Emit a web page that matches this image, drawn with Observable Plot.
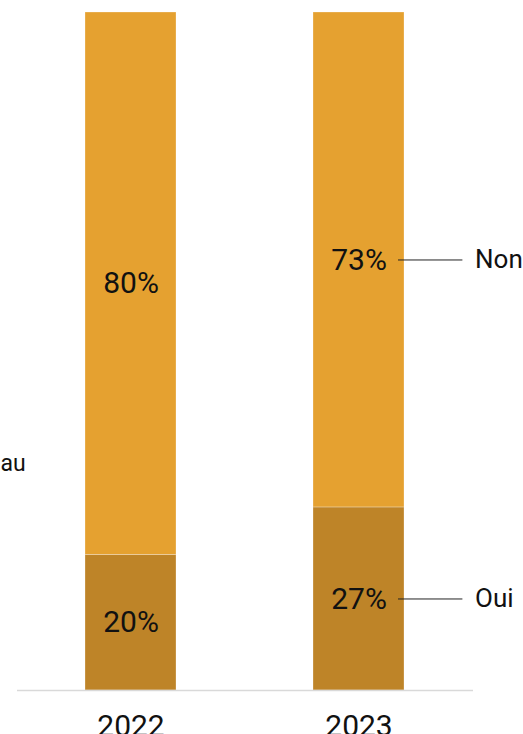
<!DOCTYPE html>
<html>
<head>
<meta charset="utf-8">
<script src="https://cdn.jsdelivr.net/npm/d3@7"></script>
<script src="https://cdn.jsdelivr.net/npm/@observablehq/plot@0.6"></script>
<style>
  html, body { margin: 0; padding: 0; background: #fff; overflow: hidden; }
  #chart svg { display: block; font-family: "Roboto", "Liberation Sans", sans-serif; }
</style>
</head>
<body>
<div id="chart"></div>
<script>
const years = ["2022", "2023"];
const answers = ["Oui", "Non"];
const ouiValues = [20, 27];
const nonValues = [80, 73];
const colors = ["#be8428", "#e5a130"];
const sideLabelYear = "2023";
const leftText = "au";

const rows = [];
years.forEach((yr, i) => {
  rows.push({year: yr, answer: "Oui", value: ouiValues[i]});
  rows.push({year: yr, answer: "Non", value: nonValues[i]});
});
const sideRows = rows.filter(d => d.year === sideLabelYear);

const chart = Plot.plot({
  width: 523,
  height: 734,
  marginLeft: 17,
  marginRight: 50,
  marginTop: 12,
  marginBottom: 44,
  style: {fontFamily: "Roboto, 'Liberation Sans', sans-serif", overflow: "visible"},
  x: {domain: years, paddingInner: 0.6, paddingOuter: 0.3, label: null},
  y: {domain: [0, 100], axis: null},
  color: {domain: answers, range: colors},
  marks: [
    Plot.barY(rows, Plot.stackY({x: "year", y: "value", fill: "answer", z: "answer", order: answers, stroke: "#fff", strokeOpacity: 0.35, strokeWidth: 0.8})),
    Plot.ruleY([0], {stroke: "#d9d9d9", strokeWidth: 1.5}),
    Plot.axisX({tickSize: 0, tickPadding: 24, fontSize: 30, label: null, fill: "#111"}),
    Plot.text(rows, Plot.stackY({x: "year", y: "value", z: "answer", order: answers, text: d => d.value + "%", fontSize: 30, fill: "#111"})),
    Plot.tickY(sideRows, Plot.stackY({x: "year", y: "value", z: "answer", order: answers, dx: 85, insetRight: 26.6, stroke: "#222", strokeWidth: 1})),
    Plot.text(sideRows, Plot.stackY({x: "year", y: "value", z: "answer", order: answers, text: "answer", dx: 116, textAnchor: "start", fontSize: 26, fill: "#111"})),
    Plot.text([leftText], {frameAnchor: "left", dx: -17, dy: 112, text: d => d, textAnchor: "start", fontSize: 23, fill: "#111"})
  ]
});
document.getElementById("chart").appendChild(chart);
</script>
</body>
</html>
